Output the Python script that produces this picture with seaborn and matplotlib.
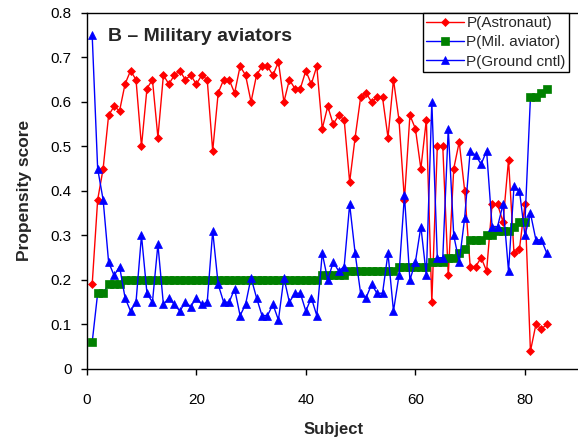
import matplotlib
matplotlib.use("Agg")
import matplotlib.pyplot as plt
import seaborn as sns

# Propensity scores per subject
subjects = list(range(1, 85))

p_astronaut = [
    0.19, 0.38, 0.45, 0.57, 0.59, 0.58, 0.64, 0.67, 0.65, 0.50,
    0.63, 0.65, 0.52, 0.66, 0.64, 0.66, 0.67, 0.65, 0.66, 0.64,
    0.66, 0.65, 0.49, 0.62, 0.65, 0.65, 0.62, 0.68, 0.66, 0.60,
    0.66, 0.68, 0.68, 0.66, 0.69, 0.60, 0.65, 0.63, 0.63, 0.67,
    0.64, 0.68, 0.54, 0.59, 0.55, 0.57, 0.56, 0.42, 0.52, 0.61,
    0.62, 0.60, 0.61, 0.61, 0.52, 0.65, 0.56, 0.38, 0.57, 0.54,
    0.45, 0.56, 0.15, 0.50, 0.50, 0.21, 0.45, 0.51, 0.40, 0.23,
    0.23, 0.25, 0.22, 0.37, 0.37, 0.33, 0.47, 0.26, 0.27, 0.37,
    0.04, 0.10, 0.09, 0.10,
]

p_mil_aviator = [
    0.06, 0.17, 0.17, 0.19, 0.19, 0.19, 0.20, 0.20, 0.20, 0.20,
    0.20, 0.20, 0.20, 0.20, 0.20, 0.20, 0.20, 0.20, 0.20, 0.20,
    0.20, 0.20, 0.20, 0.20, 0.20, 0.20, 0.20, 0.20, 0.20, 0.20,
    0.20, 0.20, 0.20, 0.20, 0.20, 0.20, 0.20, 0.20, 0.20, 0.20,
    0.20, 0.20, 0.21, 0.21, 0.21, 0.21, 0.21, 0.22, 0.22, 0.22,
    0.22, 0.22, 0.22, 0.22, 0.22, 0.22, 0.23, 0.23, 0.23, 0.23,
    0.23, 0.23, 0.24, 0.24, 0.24, 0.25, 0.25, 0.26, 0.27, 0.29,
    0.29, 0.29, 0.30, 0.30, 0.31, 0.31, 0.31, 0.32, 0.33, 0.33,
    0.61, 0.61, 0.62, 0.63,
]

p_ground_cntl = [
    0.75, 0.45, 0.38, 0.24, 0.21, 0.23, 0.16, 0.13, 0.15, 0.30,
    0.17, 0.15, 0.28, 0.145, 0.16, 0.145, 0.13, 0.15, 0.14, 0.16,
    0.145, 0.15, 0.31, 0.19, 0.15, 0.15, 0.18, 0.12, 0.145, 0.205,
    0.16, 0.12, 0.12, 0.145, 0.11, 0.205, 0.15, 0.17, 0.17, 0.13,
    0.16, 0.12, 0.26, 0.20, 0.24, 0.22, 0.23, 0.37, 0.26, 0.17,
    0.16, 0.19, 0.17, 0.17, 0.26, 0.13, 0.21, 0.39, 0.20, 0.24,
    0.32, 0.21, 0.60, 0.25, 0.25, 0.54, 0.30, 0.24, 0.34, 0.49,
    0.48, 0.46, 0.49, 0.32, 0.32, 0.37, 0.22, 0.41, 0.40, 0.30,
    0.35, 0.29, 0.29, 0.26,
]

x_ticks = [0, 20, 40, 60, 80]
y_ticks = [0, 0.1, 0.2, 0.3, 0.4, 0.5, 0.6, 0.7, 0.8]

sns.set_style("ticks")
plt.rcParams["font.family"] = ["Liberation Sans", "DejaVu Sans"]

fig = plt.figure(figsize=(5.78, 4.44), dpi=100)
ax = fig.add_axes([0.150, 0.169, 0.853, 0.802])

sns.lineplot(x=subjects, y=p_astronaut, ax=ax, color="#FF0000", linewidth=1,
             marker="D", markersize=3.8, markerfacecolor="#FF0000",
             markeredgecolor="#FF0000", markeredgewidth=0.5, label="P(Astronaut)")
sns.lineplot(x=subjects, y=p_mil_aviator, ax=ax, color="#0000FF", linewidth=1,
             marker="s", markersize=5.5, markerfacecolor="#008000",
             markeredgecolor="#008000", markeredgewidth=0.5, label="P(Mil. aviator)")
sns.lineplot(x=subjects, y=p_ground_cntl, ax=ax, color="#0000FF", linewidth=1,
             marker="^", markersize=6, markerfacecolor="#0000FF",
             markeredgecolor="#0000FF", markeredgewidth=0.5, label="P(Ground cntl)")

ax.set_xlim(0, 90)
ax.set_ylim(0, 0.8)
ax.set_xticks(x_ticks)
ax.set_yticks(y_ticks)
ax.set_yticklabels([f"{v:g}" for v in y_ticks])

for side in ["left", "bottom", "top"]:
    ax.spines[side].set_color("black")
    ax.spines[side].set_linewidth(1)
# right edge of the plot is cut off in the original
ax.spines["right"].set_visible(False)

ax.tick_params(axis="both", direction="out", length=4, width=1,
               labelsize=11, colors="black")
ax.tick_params(axis="x", pad=13)
ax.tick_params(axis="y", pad=7)

ax.set_xlabel("Subject", fontsize=12, fontweight="bold", labelpad=11)
ax.set_ylabel("Propensity score", fontsize=12.5, fontweight="bold", labelpad=13)

ax.text(0.043, 0.933, "B \u2013 Military aviators", transform=ax.transAxes,
        fontsize=14, fontweight="bold", ha="left", va="center")

leg = ax.legend(loc="upper right", bbox_to_anchor=(0.978, 1.0), frameon=True,
                fancybox=False, edgecolor="black", framealpha=1, fontsize=11,
                handlelength=2.5, handletextpad=0.15, borderpad=0.2,
                labelspacing=0.35, borderaxespad=0)
leg.get_frame().set_linewidth(1)

fig.savefig("out.png", dpi=100)
